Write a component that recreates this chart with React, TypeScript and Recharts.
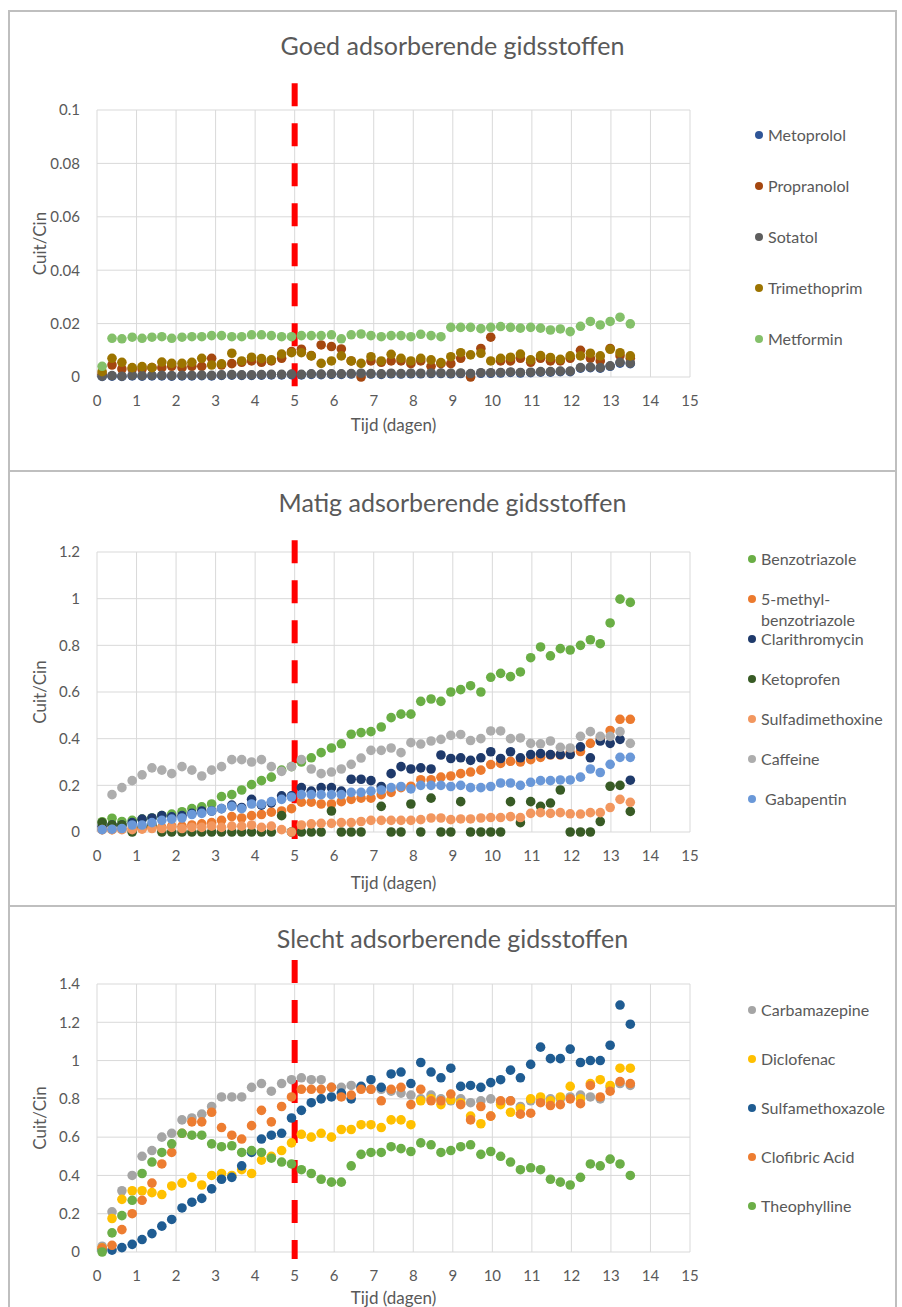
import React from 'react';
import { ScatterChart, Scatter, XAxis, YAxis, CartesianGrid, ReferenceLine, Label } from 'recharts';

// sample moments (days), shared by all three panels
const days = [
  0.13, 0.38, 0.63, 0.89, 1.14, 1.39, 1.64, 1.89, 2.15, 2.4,
  2.65, 2.9, 3.15, 3.41, 3.66, 3.91, 4.16, 4.41, 4.67, 4.92,
  5.17, 5.42, 5.67, 5.93, 6.18, 6.43, 6.68, 6.93, 7.19, 7.44,
  7.69, 7.94, 8.19, 8.45, 8.7, 8.95, 9.2, 9.45, 9.71, 9.96,
  10.21, 10.46, 10.71, 10.97, 11.22, 11.47, 11.72, 11.97, 12.23, 12.48,
  12.73, 12.98, 13.23, 13.49,
];
const dayTicks = [0, 1, 2, 3, 4, 5, 6, 7, 8, 9, 10, 11, 12, 13, 14, 15];
const switchDay = 5;

// --- Goed adsorberende gidsstoffen ---
const goedTicks = [0, 0.02, 0.04, 0.06, 0.08, 0.1];
const metoprolol = [
  0.0002, 0.0003, 0.0002, 0.0004, 0.0003, 0.0004, 0.0004, 0.0003, 0.0004, 0.0004,
  0.0005, 0.0004, 0.0006, 0.0007, 0.0006, 0.0006, 0.0007, 0.0008, 0.0008, 0.0009,
  0.0008, 0.001, 0.0009, 0.001, 0.001, 0.0011, 0.0012, 0.0011, 0.001, 0.0012,
  0.0011, 0.0012, 0.0012, 0.0013, 0.0013, 0.0012, 0.0013, 0.0011, 0.0014, 0.0014,
  0.0015, 0.0017, 0.0015, 0.0016, 0.0018, 0.0018, 0.002, 0.002, 0.0033, 0.0035,
  0.0033, 0.004, 0.0052, 0.005,
];
const propranolol = [
  0.001, 0.0045, 0.003, 0.003, 0.003, 0.0035, 0.0035, 0.004, 0.0035, 0.004,
  0.004, 0.007, 0.0045, 0.005, 0.0055, 0.006, 0.0055, 0.006, 0.007, 0.0095,
  0.0104, 0.008, 0.012, 0.0114, 0.0105, 0.006, 0, 0.006, 0.0055, 0.006,
  0.006, 0.005, 0.006, 0.004, 0.005, 0.005, 0.007, 0, 0.0107, 0.0149,
  0.006, 0.006, 0.007, 0.0055, 0.007, 0.006, 0.006, 0.007, 0.01, 0.007,
  0.006, 0.0107, 0.008, 0.007,
];
const sotatol = [
  0.0003, 0.0005, 0.0003, 0.0006, 0.0005, 0.0006, 0.0006, 0.0005, 0.0006, 0.0006,
  0.0007, 0.0006, 0.0008, 0.0009, 0.0008, 0.0008, 0.0009, 0.001, 0.001, 0.0011,
  0.001, 0.0012, 0.0011, 0.0012, 0.0012, 0.0013, 0.0014, 0.0013, 0.0012, 0.0014,
  0.0013, 0.0014, 0.0014, 0.0015, 0.0015, 0.0014, 0.0015, 0.0013, 0.0016, 0.0016,
  0.0017, 0.0019, 0.0017, 0.0018, 0.002, 0.002, 0.0022, 0.0022, 0.0035, 0.0037,
  0.0035, 0.0042, 0.0055, 0.0052,
];
const trimethoprim = [
  0.002, 0.007, 0.0055, 0.0035, 0.0039, 0.0035, 0.0056, 0.0051, 0.0051, 0.0055,
  0.007, 0.0045, 0.0049, 0.0089, 0.006, 0.0074, 0.0069, 0.0064, 0.0086, 0.0091,
  0.0091, 0.0079, 0.0051, 0.006, 0.0079, 0.006, 0.0051, 0.0076, 0.006, 0.0085,
  0.007, 0.006, 0.007, 0.0064, 0.0054, 0.0076, 0.0091, 0.0083, 0.0089, 0.006,
  0.007, 0.0074, 0.0086, 0.0064, 0.008, 0.0073, 0.0066, 0.0079, 0.0079, 0.0089,
  0.0079, 0.0104, 0.0091, 0.0079,
];
const metformin = [
  0.004, 0.0145, 0.0143, 0.0149, 0.0145, 0.0149, 0.0151, 0.0145, 0.0149, 0.0151,
  0.0151, 0.0155, 0.0155, 0.0151, 0.0151, 0.0158, 0.0158, 0.0155, 0.0151, 0.0151,
  0.0155, 0.0155, 0.0155, 0.0158, 0.0143, 0.0158, 0.0161, 0.0155, 0.0151, 0.0155,
  0.0155, 0.0151, 0.016, 0.0155, 0.0151, 0.0186, 0.0186, 0.0186, 0.0181, 0.0186,
  0.0189, 0.0186, 0.0183, 0.0186, 0.0183, 0.0176, 0.018, 0.017, 0.019, 0.0208,
  0.0195, 0.0208, 0.0224, 0.0199,
];

// --- Matig adsorberende gidsstoffen ---
const matigTicks = [0, 0.2, 0.4, 0.6, 0.8, 1, 1.2];
const benzotriazole = [
  0.044, 0.059, 0.045, 0.05, 0.055, 0.06, 0.07, 0.077, 0.087, 0.1,
  0.108, 0.12, 0.152, 0.16, 0.18, 0.203, 0.22, 0.235, 0.265, 0.28,
  0.3, 0.318, 0.34, 0.36, 0.378, 0.419, 0.426, 0.43, 0.45, 0.49,
  0.505, 0.505, 0.56, 0.57, 0.56, 0.6, 0.61, 0.627, 0.6, 0.663,
  0.68, 0.666, 0.686, 0.747, 0.793, 0.755, 0.786, 0.78, 0.8, 0.824,
  0.807, 0.896, 0.998, 0.984,
];
const methylBenzotriazole = [
  0.01, 0.01, 0.012, 0.015, 0.015, 0.02, 0.02, 0.025, 0.025, 0.03,
  0.035, 0.04, 0.05, 0.066, 0.06, 0.07, 0.075, 0.085, 0.09, 0.1,
  0.128, 0.128, 0.12, 0.12, 0.13, 0.14, 0.145, 0.145, 0.16, 0.17,
  0.19, 0.196, 0.224, 0.224, 0.235, 0.24, 0.25, 0.257, 0.265, 0.289,
  0.294, 0.303, 0.3, 0.31, 0.32, 0.33, 0.33, 0.34, 0.345, 0.38,
  0.4, 0.435, 0.483, 0.483,
];
const clarithromycin = [
  0.025, 0.03, 0.03, 0.04, 0.055, 0.06, 0.07, 0.065, 0.07, 0.08,
  0.09, 0.09, 0.1, 0.115, 0.105, 0.14, 0.115, 0.125, 0.155, 0.155,
  0.19, 0.175, 0.19, 0.19, 0.175, 0.226, 0.226, 0.22, 0.195, 0.25,
  0.28, 0.27, 0.275, 0.27, 0.33, 0.315, 0.318, 0.307, 0.318, 0.344,
  0.315, 0.344, 0.318, 0.332, 0.336, 0.332, 0.332, 0.332, 0.365, 0.318,
  0.39, 0.38, 0.397, 0.222,
];
const ketoprofen = [
  0.04, 0.03, 0.03, 0, 0.02, 0.03, 0, 0, 0, 0,
  0, 0, 0, 0, 0, 0, 0, 0, 0.07, 0,
  0, 0, 0, 0.09, 0, 0, 0, null, 0.11, 0,
  0, 0.12, 0, 0.145, 0, 0, 0.13, 0, 0, 0,
  0, 0.13, 0.04, 0.13, 0.11, 0.124, 0.18, 0, 0, 0,
  0.045, 0.196, 0.2, 0.088,
];
const sulfadimethoxine = [
  0.01, 0.01, 0.01, 0.01, 0.012, 0.015, 0.015, 0.02, 0.015, 0.02,
  0.02, 0.025, 0.02, 0.025, 0.025, 0.03, 0.02, 0.025, 0.01, 0,
  0.03, 0.035, 0.037, 0.037, 0.04, 0.04, 0.045, 0.05, 0.05, 0.05,
  0.05, 0.05, 0.053, 0.06, 0.06, 0.053, 0.056, 0.056, 0.06, 0.062,
  0.062, 0.066, 0.062, 0.08, 0.083, 0.08, 0.083, 0.078, 0.077, 0.083,
  0.083, 0.105, 0.14, 0.127,
];
const caffeine = [
  null, 0.16, 0.19, 0.22, 0.245, 0.275, 0.265, 0.25, 0.28, 0.265,
  0.24, 0.265, 0.28, 0.31, 0.31, 0.3, 0.31, 0.28, 0.26, 0.28,
  0.31, 0.27, 0.25, 0.257, 0.27, 0.29, 0.317, 0.35, 0.35, 0.36,
  0.34, 0.383, 0.377, 0.39, 0.397, 0.414, 0.418, 0.392, 0.4, 0.433,
  0.433, 0.4, 0.403, 0.38, 0.378, 0.39, 0.363, 0.36, 0.41, 0.43,
  0.41, 0.41, 0.43, 0.38,
];
const gabapentin = [
  0.01, 0.012, 0.015, 0.03, 0.03, 0.04, 0.05, 0.055, 0.06, 0.075,
  0.08, 0.09, 0.1, 0.11, 0.1, 0.12, 0.12, 0.13, 0.14, 0.15,
  0.16, 0.16, 0.16, 0.16, 0.16, 0.17, 0.17, 0.175, 0.18, 0.19,
  0.195, 0.185, 0.2, 0.2, 0.2, 0.195, 0.2, 0.19, 0.19, 0.195,
  0.21, 0.21, 0.2, 0.213, 0.22, 0.22, 0.223, 0.223, 0.235, 0.27,
  0.255, 0.29, 0.32, 0.32,
];

// --- Slecht adsorberende gidsstoffen ---
const slechtTicks = [0, 0.2, 0.4, 0.6, 0.8, 1, 1.2, 1.4];
const carbamazepine = [
  0.03, 0.21, 0.32, 0.4, 0.5, 0.53, 0.6, 0.62, 0.69, 0.7,
  0.72, 0.76, 0.81, 0.81, 0.81, 0.86, 0.88, 0.84, 0.88, 0.9,
  0.91, 0.9, 0.9, 0.86, 0.86, 0.87, 0.86, 0.85, 0.85, 0.84,
  0.83, 0.82, 0.8, 0.82, 0.8, 0.79, 0.8, 0.78, 0.79, 0.8,
  0.78, 0.79, 0.76, 0.79, 0.8, 0.8, 0.8, 0.81, 0.82, 0.81,
  0.8, 0.86, 0.88, 0.87,
];
const diclofenac = [
  0.02, 0.175, 0.275, 0.32, 0.32, 0.31, 0.3, 0.345, 0.36, 0.39,
  0.35, 0.4, 0.41, 0.4, 0.43, 0.41, 0.48, 0.5, 0.53, 0.57,
  0.615, 0.6, 0.62, 0.6, 0.64, 0.64, 0.665, 0.665, 0.65, 0.69,
  0.69, 0.665, 0.79, 0.8, 0.77, 0.795, 0.78, 0.71, 0.67, 0.71,
  0.77, 0.73, 0.75, 0.8, 0.81, 0.79, 0.81, 0.865, 0.8, 0.88,
  0.9, 0.87, 0.96, 0.96,
];
const sulfamethoxazole = [
  0.01, 0.01, 0.023, 0.04, 0.065, 0.096, 0.135, 0.17, 0.23, 0.26,
  0.28, 0.33, 0.38, 0.39, 0.45, 0.52, 0.59, 0.61, 0.62, 0.7,
  0.74, 0.78, 0.8, 0.81, 0.83, 0.8, 0.865, 0.9, 0.86, 0.93,
  0.94, 0.88, 0.99, 0.94, 0.91, 0.96, 0.865, 0.87, 0.86, 0.885,
  0.9, 0.95, 0.91, 0.98, 1.07, 1.01, 1.01, 1.06, 0.99, 1.0,
  1.0, 1.08, 1.29, 1.19,
];
const clofibricAcid = [
  0.02, 0.035, 0.117, 0.2, 0.27, 0.36, 0.46, 0.52, 0.62, 0.68,
  0.68, 0.73, 0.65, 0.61, 0.59, 0.66, 0.74, 0.68, 0.76, 0.81,
  0.85, 0.85, 0.85, 0.86, 0.81, 0.82, 0.85, 0.85, 0.79, 0.85,
  0.86, 0.77, 0.85, 0.79, 0.79, 0.825, 0.77, 0.69, 0.76, 0.71,
  0.79, 0.79, 0.72, 0.725, 0.78, 0.765, 0.77, 0.8, 0.775, 0.87,
  0.81, 0.84, 0.89, 0.88,
];
const theophylline = [
  0, 0.1, 0.19, 0.27, 0.41, 0.47, 0.52, 0.565, 0.62, 0.61,
  0.61, 0.565, 0.55, 0.555, 0.52, 0.53, 0.52, 0.49, 0.47, 0.46,
  0.43, 0.41, 0.38, 0.365, 0.365, 0.45, 0.51, 0.52, 0.52, 0.55,
  0.54, 0.525, 0.57, 0.56, 0.52, 0.53, 0.55, 0.56, 0.51, 0.525,
  0.5, 0.47, 0.43, 0.44, 0.43, 0.38, 0.365, 0.35, 0.39, 0.46,
  0.45, 0.485, 0.46, 0.4,
];

type Series = { name: string; color: string; values: (number | null)[] };

const goedSeries: Series[] = [
  { name: 'Metoprolol', color: '#2F5597', values: metoprolol },
  { name: 'Propranolol', color: '#A5470F', values: propranolol },
  { name: 'Sotatol', color: '#5E5E5E', values: sotatol },
  { name: 'Trimethoprim', color: '#9C7400', values: trimethoprim },
  { name: 'Metformin', color: '#84C06A', values: metformin },
];
const matigSeries: Series[] = [
  { name: 'Benzotriazole', color: '#6AAE45', values: benzotriazole },
  { name: '5-methyl-\nbenzotriazole', color: '#EC7A2E', values: methylBenzotriazole },
  { name: 'Clarithromycin', color: '#1F3A6B', values: clarithromycin },
  { name: 'Ketoprofen', color: '#385B25', values: ketoprofen },
  { name: 'Sulfadimethoxine', color: '#F2975F', values: sulfadimethoxine },
  { name: 'Caffeine', color: '#ADADAD', values: caffeine },
  { name: ' Gabapentin', color: '#6A98D8', values: gabapentin },
];
const slechtSeries: Series[] = [
  { name: 'Carbamazepine', color: '#A5A5A5', values: carbamazepine },
  { name: 'Diclofenac', color: '#FFC000', values: diclofenac },
  { name: 'Sulfamethoxazole', color: '#1F5C92', values: sulfamethoxazole },
  { name: 'Clofibric Acid', color: '#ED7D31', values: clofibricAcid },
  { name: 'Theophylline', color: '#6BAE47', values: theophylline },
];

const TEXT = '#595959';
const FONT = 'Lato, "Open Sans", sans-serif';

const toPoints = (values: (number | null)[]) =>
  days.flatMap((d, i) => (values[i] == null ? [] : [{ x: d, y: values[i] as number }]));

type PanelProps = {
  title: string;
  series: Series[];
  yTicks: number[];
  top: number;
  height: number;
  plotTop: number;
  plotBottom: number;
  titleY: number;
  xTitleDy: number;
  legendX: number;
  legendTop: number;
  legendGap: number;
  cut: [number, number];
};

function Panel(p: PanelProps) {
  const yMax = p.yTicks[p.yTicks.length - 1];
  const axisH = 60;
  const marginBottom = Math.max(0, p.height - (p.plotBottom - p.top) - axisH);
  return (
    <>
      <div
        style={{
          position: 'absolute', left: 8, width: 889, top: p.titleY - 16, height: 32,
          lineHeight: '32px', textAlign: 'center', fontSize: 25, color: TEXT, fontFamily: FONT,
        }}
      >
        {p.title}
      </div>
      <div style={{ position: 'absolute', left: 0, top: p.top }}>
        <ScatterChart
          width={900}
          height={p.height}
          margin={{ top: p.plotTop - p.top, right: 210, bottom: marginBottom, left: 37 }}
        >
          <CartesianGrid stroke="#D9D9D9" strokeWidth={1} />
          <XAxis
            type="number"
            dataKey="x"
            domain={[0, 15]}
            ticks={dayTicks}
            interval={0}
            axisLine={false}
            tickLine={false}
            tickSize={6}
            tickMargin={12}
            height={axisH}
            tick={{ fill: TEXT, fontSize: 15, fontFamily: FONT }}
          >
            <Label value="Tijd (dagen)" position="center" dy={p.xTitleDy} fill={TEXT} fontSize={17} fontFamily={FONT} />
          </XAxis>
          <YAxis
            type="number"
            dataKey="y"
            domain={[0, yMax]}
            ticks={p.yTicks}
            interval={0}
            axisLine={false}
            tickLine={false}
            tickSize={6}
            tickMargin={11}
            width={60}
            tick={{ fill: TEXT, fontSize: 15, fontFamily: FONT }}
          >
            <Label value="Cuit/Cin" position="center" angle={-90} dx={-27} fill={TEXT} fontSize={17} fontFamily={FONT} />
          </YAxis>
          {p.series.map((s) => (
            <Scatter
              key={s.name}
              name={s.name}
              data={toPoints(s.values)}
              isAnimationActive={false}
              shape={(props: any) => <circle cx={props.cx} cy={props.cy} r={4.8} fill={s.color} />}
            />
          ))}
          <ReferenceLine
            segment={[{ x: switchDay, y: p.cut[0] }, { x: switchDay, y: p.cut[1] }]}
            stroke="#FF0000"
            strokeWidth={6}
            strokeDasharray="23 17"
            ifOverflow="visible"
          />
        </ScatterChart>
      </div>
      {p.series.map((s, i) => (
        <div
          key={s.name}
          style={{
            position: 'absolute', left: p.legendX - 4, top: p.legendTop + i * p.legendGap - 11,
            display: 'flex', alignItems: 'flex-start', fontFamily: FONT, fontSize: 16, color: TEXT,
          }}
        >
          <span
            style={{
              display: 'inline-block', width: 8, height: 8, borderRadius: 4, marginTop: 7,
              background: s.color,
            }}
          />
          <span style={{ marginLeft: 5, whiteSpace: 'pre', lineHeight: '21px' }}>{s.name}</span>
        </div>
      ))}
    </>
  );
}

export default function App() {
  const border = '2px solid #BFBFBF';
  return (
    <div
      style={{
        position: 'absolute', left: 0, top: 0, width: 902, height: 1307,
        overflow: 'hidden', background: '#FFFFFF',
      }}
    >
      <div style={{ position: 'absolute', left: 8, top: 10, width: 889, height: 462, border, boxSizing: 'border-box' }} />
      <div style={{ position: 'absolute', left: 8, top: 470, width: 889, height: 437, border, boxSizing: 'border-box' }} />
      <div style={{ position: 'absolute', left: 8, top: 905, width: 889, height: 440, border, boxSizing: 'border-box' }} />

      <Panel
        title="Goed adsorberende gidsstoffen"
        series={goedSeries}
        yTicks={goedTicks}
        top={11}
        height={460}
        plotTop={110}
        plotBottom={377}
        titleY={45}
        xTitleDy={18}
        legendX={759}
        legendTop={135}
        legendGap={51}
        cut={[0.11, -0.0037]}
      />
      <Panel
        title="Matig adsorberende gidsstoffen"
        series={matigSeries}
        yTicks={matigTicks}
        top={471}
        height={435}
        plotTop={552}
        plotBottom={832}
        titleY={502}
        xTitleDy={21}
        legendX={752}
        legendTop={559}
        legendGap={40}
        cut={[1.25, -0.03]}
      />
      <Panel
        title="Slecht adsorberende gidsstoffen"
        series={slechtSeries}
        yTicks={slechtTicks}
        top={906}
        height={406}
        plotTop={984}
        plotBottom={1252}
        titleY={938}
        xTitleDy={16}
        legendX={752}
        legendTop={1010}
        legendGap={49}
        cut={[1.525, -0.037]}
      />
    </div>
  );
}
